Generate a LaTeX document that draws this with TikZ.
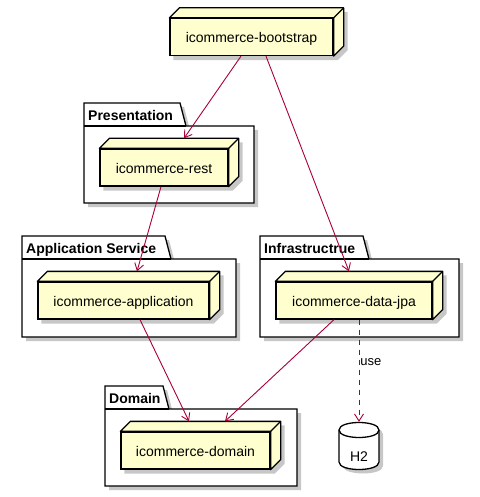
\documentclass[tikz,border=0pt]{standalone}
\usepackage{fontspec}
\setmainfont{Liberation Sans}
\usetikzlibrary{arrows.meta}
\definecolor{nodefill}{HTML}{FEFECE}
\definecolor{depcolor}{HTML}{A80036}
\pgfdeclarelayer{background}
\pgfdeclarelayer{shadows}
\pgfsetlayers{background,shadows,main}

\begin{document}
\begin{tikzpicture}[x=1pt,y=-1pt,>={Straight Barb[length=7pt,width=9pt]},
	module node/.style={rectangle,draw,line width=1.3pt,fill=nodefill,minimum height=37pt,
		inner sep=0pt,text height=11pt,text depth=0pt,font=\fontsize{14}{16}\selectfont},
	db node/.style={rectangle,minimum width=40pt,minimum height=48pt,inner sep=0pt},
	node face/.style={draw,line width=1.3pt,fill=nodefill,line join=round},
	shadow fill/.style={fill=black,opacity=0.22},
	folder/.style={draw,line width=1.3pt,fill=white},
	pkg title/.style={anchor=base west,inner sep=0pt,font=\fontsize{14}{16}\selectfont\bfseries},
	dep/.style={->,draw=depcolor,line width=0.9pt}]
	\useasboundingbox (0,0) rectangle (479,497);
	
	% packages
	\begin{pgfonlayer}{background}
		\foreach \xa/\ya/\yb/\xt/\xc/\yc/\name in {84/103/126/180/254/203/Presentation,
			22/236/259/165/236/337/Application Service,
			260/236/259/363/459/337/Infrastructrue,
			105/386/409/163/297/486/Domain}{
			\fill[shadow fill] (\xa+4,\ya+4) -- (\xt+4,\ya+4) -- (\xt+10,\yb+4) -- (\xc+4,\yb+4)
				-- (\xc+4,\yc+4) -- (\xa+4,\yc+4) -- cycle;
			\draw[folder] (\xa,\ya) -- (\xt,\ya) -- (\xt+6,\yb) -- (\xc,\yb) -- (\xc,\yc) -- (\xa,\yc) -- cycle;
			\draw[line width=1.3pt] (\xa,\yb) -- (\xt+6,\yb);
			\node[pkg title] at (\xa+4,\yb-5.5) {\name};
		}
	\end{pgfonlayer}
	
	\node[module node,minimum width=163pt] (boot) at (251.5,37) {icommerce-bootstrap};
	\node[module node,minimum width=128pt] (rest) at (164,167.5) {icommerce-rest};
	\node[module node,minimum width=171pt] (app) at (123.5,300.5) {icommerce-application};
	\node[module node,minimum width=156pt] (jpa) at (354,300.5) {icommerce-data-jpa};
	\node[module node,minimum width=149pt] (dom) at (195.5,450.5) {icommerce-domain};
	\node[db node,label={[yshift=-11pt,font=\fontsize{14}{16}\selectfont]center:H2}] (h2) at (359,446) {};
	
	\foreach \n in {boot,rest,app,jpa,dom}{
		\begin{pgfonlayer}{shadows}
			\fill[shadow fill] ([shift={(4,4)}]\n.north west) -- ([shift={(14,-6)}]\n.north west)
				-- ([shift={(14,-6)}]\n.north east) -- ([shift={(14,-6)}]\n.south east)
				-- ([shift={(4,4)}]\n.south east) -- ([shift={(4,4)}]\n.south west) -- cycle;
		\end{pgfonlayer}
		\draw[node face] (\n.north west) -- ([shift={(10,-10)}]\n.north west)
			-- ([shift={(10,-10)}]\n.north east) -- ([shift={(10,-10)}]\n.south east)
			-- (\n.south east) -- (\n.north east) -- cycle;
		\draw[line width=1.3pt] (\n.north east) -- ([shift={(10,-10)}]\n.north east);
	}
	
	% database
	\begin{pgfonlayer}{shadows}
		\fill[shadow fill,shift={(h2.center)},xshift=4pt,yshift=-4pt] (-20,-16)
			.. controls (-20,-26) and (20,-26) .. (20,-16) -- (20,16)
			.. controls (20,26) and (-20,26) .. (-20,16) -- cycle;
		\draw[folder,shift={(h2.center)}] (-20,-16)
			.. controls (-20,-26) and (20,-26) .. (20,-16) -- (20,16)
			.. controls (20,26) and (-20,26) .. (-20,16) -- cycle;
		\draw[line width=1.3pt,shift={(h2.center)}] (-20,-16)
			.. controls (-20,-6) and (20,-6) .. (20,-16);
	\end{pgfonlayer}
	
	\draw[dep] ([shift={(-10.5,0)}]boot.south) -- ([shift={(20,-10)}]rest.north);
	\draw[dep] ([shift={(14.5,0)}]boot.south) -- ([shift={(-5,-10)}]jpa.north);
	\draw[dep] ([shift={(-3,0)}]rest.south) -- ([shift={(13.5,-10)}]app.north);
	\draw[dep] ([shift={(16.5,0)}]app.south) -- ([shift={(-6.5,-10)}]dom.north);
	\draw[dep] ([shift={(-20,0)}]jpa.south) -- ([shift={(29.5,-10)}]dom.north);
	\draw[dep,dash pattern=on 5pt off 5pt] ([shift={(5,0)}]jpa.south) --
		node[pos=0.42,right,inner sep=1pt,font=\fontsize{13}{15}\selectfont] {use} (h2.north);
\end{tikzpicture}
\end{document}
